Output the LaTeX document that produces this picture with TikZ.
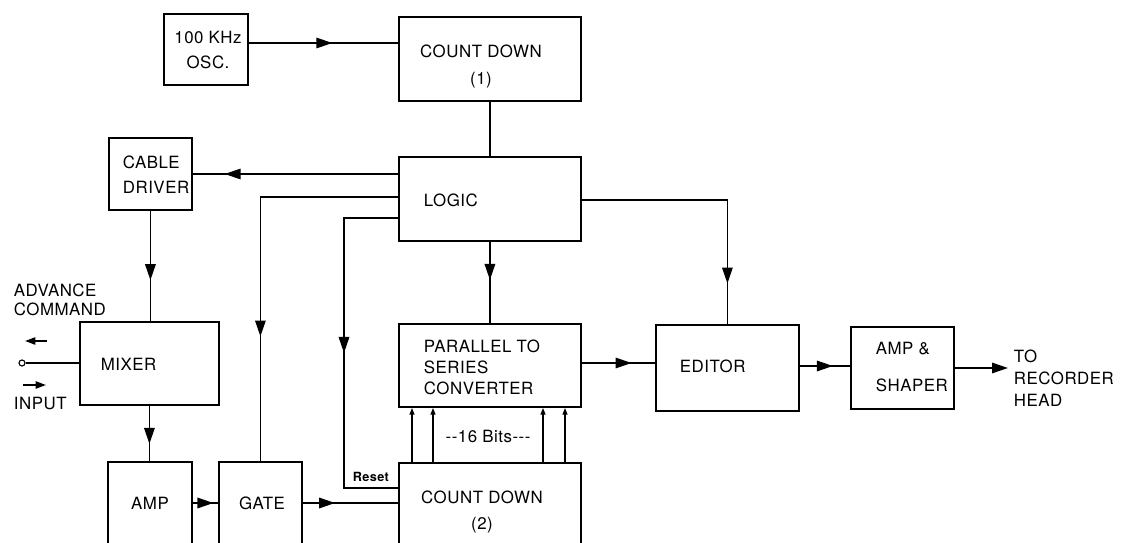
\documentclass[tikz,border=0pt]{standalone}
\usepackage{fontspec}
\setmainfont[LetterSpace=3]{TeX Gyre Heros}
\usetikzlibrary{arrows.meta,decorations.markings}

\begin{document}
\begin{tikzpicture}[
        x=0.025cm, y=-0.025cm,
        line width=1.3pt,
        blk/.style 2 args={draw, anchor=north west, inner sep=0pt,
            minimum width=#1*0.025cm, minimum height=#2*0.025cm},
        txt/.style={font=\fontsize{12}{#1}\selectfont, inner sep=0pt},
        flow/.style={postaction={decorate}, decoration={markings,
            mark=at position #1 with {\arrow{Triangle[length=4mm,width=2.6mm]}}}},
        bit/.style={-{Triangle[length=1.7mm,width=1.2mm]}}
    ]

    \useasboundingbox (0,0) rectangle (1142,543);
    \clip (0,0) rectangle (1142,543);

    % blocks
    \node[blk={84}{71}] (osc) at (163,13) {};
    \node[blk={182}{84}] (cdone) at (398,16) {};
    \node[blk={182}{84}] (logic) at (398,156) {};
    \node[blk={83}{72}] (cable) at (108,137) {};
    \node[blk={139}{83}] (mixer) at (79,321) {};
    \node[blk={84}{120}] (amp) at (107,461) {};
    \node[blk={83}{120}] (gate) at (218,461) {};
    \node[blk={182}{120}] (cdtwo) at (398,462) {};
    \node[blk={182}{83}] (ptos) at (398,323) {};
    \node[blk={143}{86}] (editor) at (655,324) {};
    \node[blk={103}{82}] (shaper) at (850,326) {};
    \node[circle, draw, line width=0.8pt, minimum size=0.15cm, inner sep=0pt] (term) at (22,363) {};

    % texts
    \node[txt=17.8pt, align=center] (osc-t) at (208,50) {100 KHz\\OSC.};
    \node[txt=19.2pt, align=center] (cdone-t) at (481,66) {COUNT DOWN\\(1)};
    \node[txt=14.4pt, anchor=west] (logic-t) at (423,200) {LOGIC};
    \node[txt=17.8pt, align=left, anchor=west] (cable-t) at (122,175) {CABLE\\DRIVER};
    \node[txt=14.4pt, anchor=west] (mixer-t) at (100,364) {MIXER};
    \node[txt=14.4pt] (amp-t) at (150,503) {AMP};
    \node[txt=14.4pt] (gate-t) at (262,503) {GATE};
    \node[txt=18.5pt, align=center] (cdtwo-t) at (482,512) {COUNT DOWN\\(2)};
    \node[txt=15pt, align=left, anchor=west] (ptos-t) at (423,367) {PARALLEL TO\\SERIES\\CONVERTER};
    \node[txt=14.4pt, anchor=west] (editor-t) at (679,366) {EDITOR};
    \node[txt=27pt, align=left, anchor=west] (shaper-t) at (875,367) {AMP \&\\SHAPER};
    \node[txt=15.6pt, align=left, anchor=west] (out-t) at (1013,378) {TO\\RECORDER\\HEAD};
    \node[txt=13.5pt, align=left, anchor=west] (adv-t) at (13,300) {ADVANCE\\COMMAND};
    \node[txt=14.4pt, anchor=west] (input-t) at (13,403) {INPUT};
    \node[font=\fontsize{9}{10}\selectfont\bfseries, inner sep=0pt, anchor=west] (reset-t) at (352,477) {Reset};
    \node[txt=14.4pt] (bits-t) at (488,436) {-{}-16 Bits-{}-{}-};

    % connectors
    \draw[flow=0.56] (osc.east |- 0,43) -- (cdone.west |- 0,43);
    \draw (cdone) -- (logic);
    \draw[flow=0.845] (logic.west |- 0,174) -- (cable.east |- 0,174);
    \draw[flow=0.69] (logic.west |- 0,197) -| (gate.north);
    \draw[flow=0.5] (logic.west |- 0,218) -- ++(-54,0) |- (cdtwo.west |- 0,488);
    \draw[flow=0.47] (logic) -- (ptos);
    \draw[flow=0.85] (logic.east |- 0,200) -| (editor.north);
    \draw[flow=0.63] (cable.south) -- (cable.south |- mixer.north);
    \draw[flow=0.69] (mixer.south) -- (mixer.south |- amp.north);
    \draw[flow=0.82] (amp.east |- 0,503) -- (gate.west |- 0,503);
    \draw[flow=0.34] (gate.east |- 0,503) -- (cdtwo.west |- 0,503);
    \draw[flow=0.68] (ptos.east |- 0,363) -- (editor.west |- 0,363);
    \draw[flow=0.66] (editor.east |- 0,366) -- (shaper.west |- 0,366);
    \coordinate (out) at (1008,368);
    \draw[-{Triangle[length=4mm,width=2.6mm]}] (shaper.east |- out) -- (out);
    \draw (term) -- (mixer.west |- term);
    \foreach \bx in {412,433,543,565}
        \draw[bit] (cdtwo.north -| \bx,0) -- (ptos.south -| \bx,0);

    % advance command / input
    \coordinate (adv-a) at (47,341);
    \coordinate (adv-b) at (25,341);
    \coordinate (in-a) at (23,385);
    \coordinate (in-b) at (46,385);
    \draw[-{Triangle[length=2.6mm,width=1.8mm]}] (adv-a) -- (adv-b);
    \draw[-{Triangle[length=2.6mm,width=1.8mm]}] (in-a) -- (in-b);

\end{tikzpicture}
\end{document}
